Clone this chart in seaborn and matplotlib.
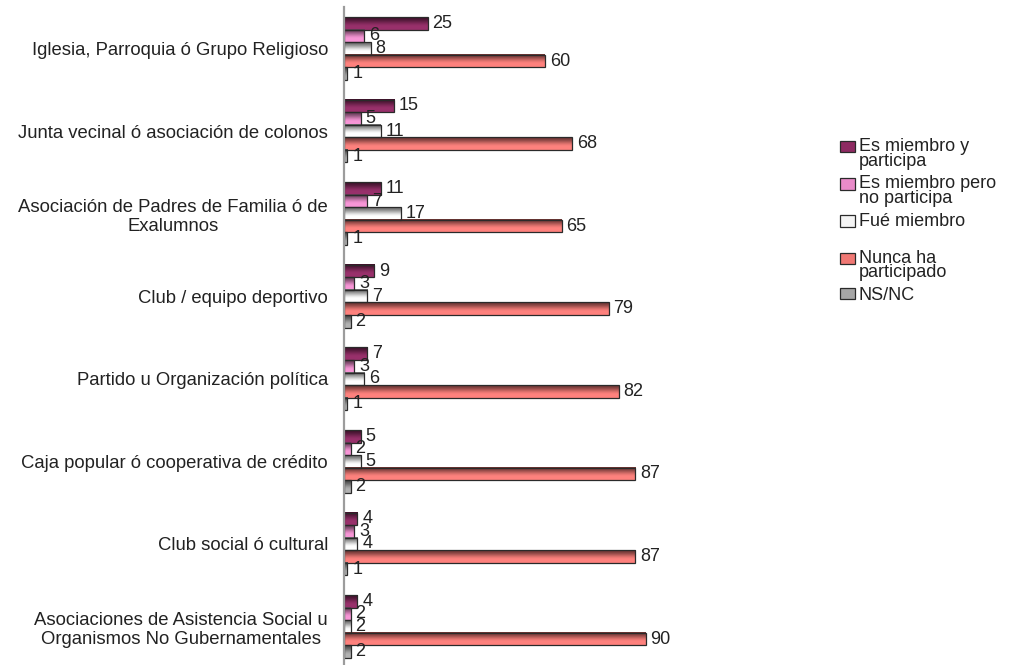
import numpy as np
import pandas as pd
import matplotlib
matplotlib.use("Agg")
import matplotlib.pyplot as plt
import matplotlib.colors as mcolors
from matplotlib.patches import Patch, Rectangle
from matplotlib.legend_handler import HandlerPatch
import seaborn as sns

categorias = [
    "Iglesia, Parroquia ó Grupo Religioso",
    "Junta vecinal ó asociación de colonos",
    "Asociación de Padres de Familia ó de\nExalumnos",
    "Club / equipo deportivo",
    "Partido u Organización política",
    "Caja popular ó cooperativa de crédito",
    "Club social ó cultural",
    "Asociaciones de Asistencia Social u\nOrganismos No Gubernamentales",
]

series = [
    "Es miembro y\nparticipa",
    "Es miembro pero\nno participa",
    "Fué miembro\n ",
    "Nunca ha\nparticipado",
    "NS/NC",
]

es_miembro_participa = [25, 15, 11, 9, 7, 5, 4, 4]
es_miembro_no_participa = [6, 5, 7, 3, 3, 2, 3, 2]
fue_miembro = [8, 11, 17, 7, 6, 5, 4, 2]
nunca_ha_participado = [60, 68, 65, 79, 82, 87, 87, 90]
ns_nc = [1, 1, 1, 2, 1, 2, 1, 2]

colores = ["#8e2a62", "#e98bc9", "#f4f4f4", "#f07874", "#a6a6a6"]

valores = [es_miembro_participa, es_miembro_no_participa, fue_miembro,
           nunca_ha_participado, ns_nc]
df = pd.DataFrame(
    [(c, s, v[i]) for s, v in zip(series, valores) for i, c in enumerate(categorias)],
    columns=["categoria", "serie", "porcentaje"],
)

sns.set_theme(style="white")
plt.rcParams["font.family"] = ["Liberation Sans", "DejaVu Sans"]
plt.rcParams["text.color"] = "#222222"

fig = plt.figure(figsize=(10.09, 6.65), dpi=100)
W, H = 1009, 665
ax_left, ax_right = 344, 679
ax_top, ax_bottom = 7.2, 667.8
ax = fig.add_axes([ax_left / W, (H - ax_bottom) / H,
                   (ax_right - ax_left) / W, (ax_bottom - ax_top) / H])

sns.barplot(data=df, x="porcentaje", y="categoria", hue="serie", orient="h",
            palette=colores, width=0.76, edgecolor="#2a2a2a", linewidth=0.9,
            legend=False, ax=ax, zorder=2)

# shaded fill: darker at the top edge of each bar, fading to the base colour
ramp_t = np.linspace(0, 1, 64)
for cont, base in zip(ax.containers, colores):
    rgb = np.array(mcolors.to_rgb(base))
    dark = rgb * 0.45
    light = np.minimum(rgb * 1.04 + 0.02, 1)
    k = np.clip(ramp_t / 0.75, 0, 1)
    k = k * k * (3 - 2 * k)
    col = dark[None, :] * (1 - k[:, None]) + light[None, :] * k[:, None]
    grad = col[:, None, :]
    for p in cont.patches:
        x0, y0, w, h = p.get_x(), p.get_y(), p.get_width(), p.get_height()
        ax.imshow(grad, extent=(x0, x0 + w, y0 + h, y0), origin="upper",
                  aspect="auto", interpolation="bilinear", zorder=1.5)
        p.set_facecolor("none")

for cont in ax.containers:
    ax.bar_label(cont, fmt="{:.0f}", padding=3.5, fontsize=13, color="#222222")

ax.set_xlim(0, 100)
ax.set_ylim(len(categorias) - 0.5, -0.5)
ax.set_xlabel("")
ax.set_ylabel("")
ax.set_xticks([])
ax.tick_params(axis="y", length=0, pad=11.5, labelsize=13.3, labelcolor="#222222")
for lab in ax.get_yticklabels():
    lab.set_multialignment("center")
for side in ["top", "right", "bottom"]:
    ax.spines[side].set_visible(False)
ax.spines["left"].set_color("#9c9c9c")
ax.spines["left"].set_linewidth(1.6)

# legend swatches sit on the first line of two-line labels
LEG_SIZE = 13
LINE_SP = 0.82


def first_line_patch(shift):
    def make(legend, orig_handle, xdescent, ydescent, width, height, fontsize):
        return Rectangle((-xdescent, -ydescent + shift), width, height)
    return make


handles = [Patch(facecolor=c, edgecolor="#2a2a2a", linewidth=0.9) for c in colores]
handler_map = {}
for h, s in zip(handles, series):
    n_lines = s.count("\n") + 1
    shift = (n_lines - 1) * 0.5 * LINE_SP * LEG_SIZE * 1.0
    handler_map[h] = HandlerPatch(patch_func=first_line_patch(shift))

leg = fig.legend(handles, series, loc="upper left", handler_map=handler_map,
                 bbox_to_anchor=(840 / W, 1 - 138 / H), frameon=False,
                 fontsize=LEG_SIZE, handlelength=0.85, handleheight=0.6,
                 handletextpad=0.2, labelspacing=0.31, borderpad=0,
                 borderaxespad=0)
for t in leg.get_texts():
    t.set_linespacing(LINE_SP)
    t.set_color("#222222")

fig.savefig("out.png", dpi=100)
